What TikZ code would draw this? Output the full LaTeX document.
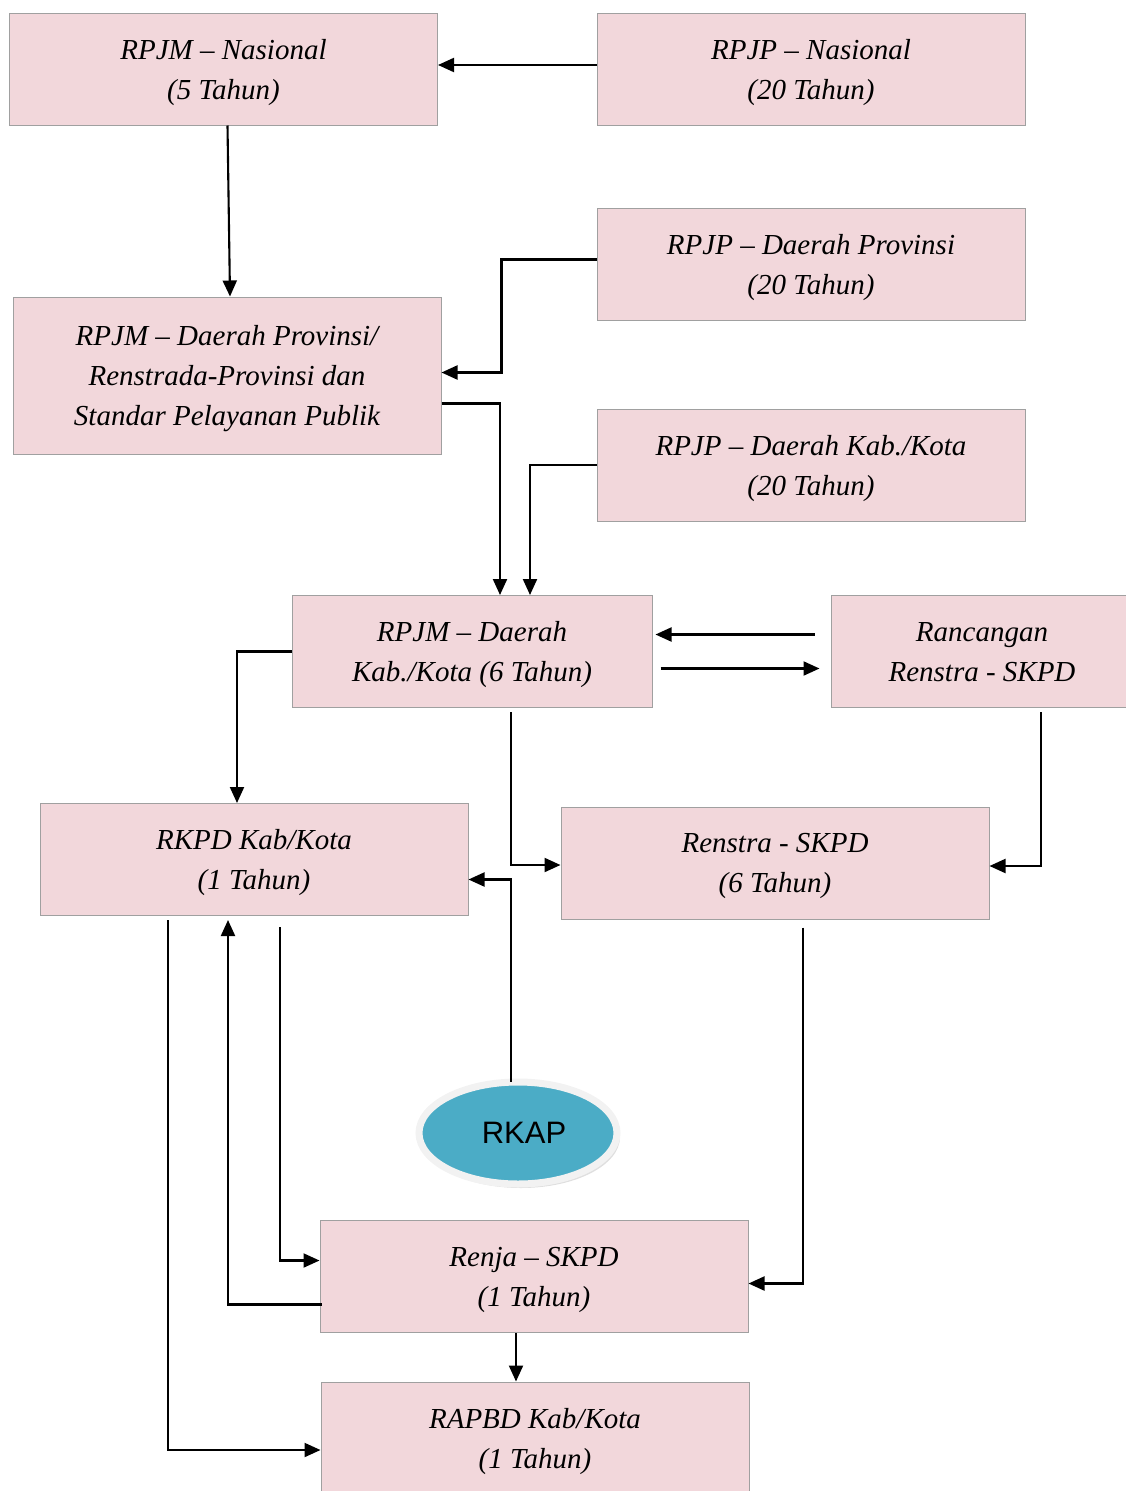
\documentclass[tikz,border=0pt]{standalone}
\usepackage{fontspec}
\setmainfont{Liberation Serif}
\newfontfamily\rkapfont{Liberation Sans}
\usepackage{tikz}
\usetikzlibrary{arrows.meta,calc,positioning,shapes.geometric,shadows}
\definecolor{BoxPink}{HTML}{F2D7DB}
\definecolor{BoxEdge}{HTML}{A0A0A0}
\definecolor{RkapBlue}{HTML}{4BACC6}
\definecolor{RkapRing}{HTML}{F2F2F2}

\begin{document}
\begin{tikzpicture}[x=1pt,y=-1pt,
    stage/.style={draw=BoxEdge,line width=1pt,fill=BoxPink,minimum width=428pt,minimum height=112pt,
                  align=center,inner sep=0pt,text depth=0pt,font=\itshape\fontsize{29}{40}\selectfont},
    arr/.style={-{Triangle[length=16pt,width=14pt]},line width=2.1pt,black}]
    \useasboundingbox (0,0) rectangle (1125,1491);
    \node[stage] (rpjmnas) at (223.5,69) {RPJM -- Nasional\\(5 Tahun)};
    \node[stage] (rpjpnas) at (811,69) {RPJP -- Nasional\\(20 Tahun)};
    \node[stage] (rpjpprov) at (811,264.5) {RPJP -- Daerah Provinsi\\(20 Tahun)};
    \node[stage,minimum height=157pt] (rpjmprov) at (227,375.5) {RPJM -- Daerah Provinsi/\\Renstrada-Provinsi dan\\Standar Pelayanan Publik};
    \node[stage] (rpjpkab) at (811,465) {RPJP -- Daerah Kab./Kota\\(20 Tahun)};
    \node[stage,minimum width=360pt] (rpjmkab) at (472,651.5) {RPJM -- Daerah\\Kab./Kota (6 Tahun)};
    \node[stage,minimum width=302pt] (ranc) at (982,651.5) {Rancangan\\Renstra - SKPD};
    \node[stage] (rkpd) at (254,859.5) {RKPD Kab/Kota\\(1 Tahun)};
    \node[stage] (renstra) at (775,863) {Renstra - SKPD\\(6 Tahun)};
    \node[ellipse,draw=RkapRing,line width=7pt,fill=RkapBlue,minimum width=198pt,minimum height=102pt,
          drop shadow={opacity=0.25,shadow xshift=3pt,shadow yshift=-4pt},
          font=\rkapfont\fontsize{31}{36}\selectfont] (rkap) at (518,1133) {\hspace*{12pt}RKAP};
    \node[stage] (renja) at (534,1276.5) {Renja -- SKPD\\(1 Tahun)};
    \node[stage] (rapbd) at (535,1438) {RAPBD Kab/Kota\\(1 Tahun)};

    \draw[arr] ([yshift=4pt]rpjpnas.west) -- ([yshift=4pt]rpjmnas.east);
    \draw[arr] ([xshift=4pt]rpjmnas.south) -- ([xshift=3pt]rpjmprov.north);
    \draw[arr] ([yshift=5pt]rpjpprov.west) -- ++(-95,0) |- ([yshift=3pt]rpjmprov.east);
    \draw[arr] ([yshift=-28pt]rpjmprov.east) -| ([xshift=28pt]rpjmkab.north);
    \draw[arr] (rpjpkab.west) -| ([xshift=58pt]rpjmkab.north);
    \draw[arr] ([yshift=17pt,xshift=-16pt]ranc.west) -- ([yshift=17pt,xshift=3pt]rpjmkab.east);
    \draw[arr] ([yshift=-17pt,xshift=8pt]rpjmkab.east) -- ([yshift=-17pt,xshift=-11pt]ranc.west);
    \draw[arr] (rpjmkab.west) -| ([xshift=-17pt]rkpd.north);
    \draw[arr] ([xshift=39pt,yshift=-4pt]rpjmkab.south) |- ([yshift=-2pt]renstra.west);
    \draw[arr] ([xshift=59pt,yshift=-4pt]ranc.south) |- ([yshift=-3pt]renstra.east);
    \draw[arr] ([xshift=-7pt,yshift=-3pt]rkap.north) |- ([yshift=-20pt]rkpd.east);
    \draw[arr] ([xshift=-86pt,yshift=-4pt]rkpd.south) |- ([yshift=-12pt]rapbd.west);
    \draw[arr] ([yshift=-28pt,xshift=2pt]renja.west) -| ([xshift=-26pt,yshift=-4pt]rkpd.south);
    \draw[arr] ([xshift=26pt,yshift=-11pt]rkpd.south) |- ([yshift=16pt]renja.west);
    \draw[arr] ([xshift=28pt,yshift=-8pt]renstra.south) |- ([yshift=-7pt]renja.east);
    \draw[arr] ([xshift=-18pt]renja.south) -- ([xshift=-19pt]rapbd.north);
  \end{tikzpicture}
\end{document}
